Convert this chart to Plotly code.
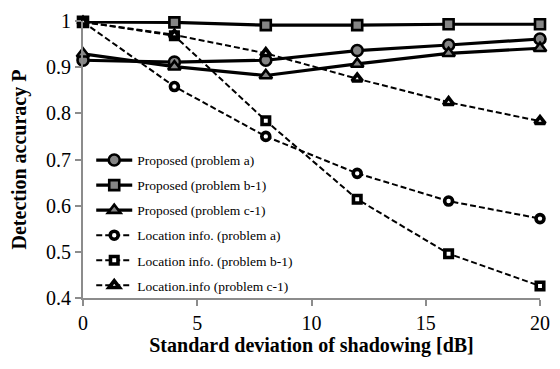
import plotly.graph_objects as go

# Shadowing standard deviation [dB]
sigma_db = [0, 4, 8, 12, 16, 20]

# Detection accuracy P for each method / problem
proposed_a = [0.915, 0.911, 0.915, 0.936, 0.948, 0.961]
proposed_b1 = [0.998, 0.997, 0.991, 0.991, 0.993, 0.993]
proposed_c1 = [0.929, 0.901, 0.882, 0.907, 0.930, 0.941]
location_a = [0.998, 0.858, 0.750, 0.670, 0.610, 0.572]
location_b1 = [0.998, 0.968, 0.784, 0.614, 0.496, 0.426]
location_c1 = [0.998, 0.970, 0.930, 0.875, 0.824, 0.783]

legend_names = [
    "Proposed (problem a)",
    "Proposed (problem b-1)",
    "Proposed (problem c-1)",
    "Location info. (problem a)",
    "Location info. (problem b-1)",
    "Location.info (problem c-1)",
]

SERIF = "Liberation Serif"
AXIS_GRAY = "#8c8c8c"

fig = go.Figure()

proposed = [(proposed_a, "circle", 11), (proposed_b1, "square", 10), (proposed_c1, "triangle-up", 11)]
location = [(location_a, "circle", 8), (location_b1, "square", 7.5), (location_c1, "triangle-up", 9)]

for i, (vals, sym, sz) in enumerate(proposed):
    fig.add_trace(go.Scatter(
        x=sigma_db, y=vals, name=legend_names[i], mode="lines+markers",
        line=dict(color="black", width=3.2),
        marker=dict(symbol=sym, size=sz, color="#858585", line=dict(color="black", width=2.6)),
        cliponaxis=False, legendgroup=f"g{i}",
    ))

for j, (vals, sym, sz) in enumerate(location):
    i = j + 3
    fig.add_trace(go.Scatter(
        x=sigma_db, y=vals, name=legend_names[i], mode="lines+markers",
        line=dict(color="black", width=2, dash="6px,3px"),
        marker=dict(symbol=sym, size=sz, color="white", line=dict(color="black", width=3.6)),
        cliponaxis=False, legendgroup=f"g{i}",
    ))

fig.update_layout(
    width=560, height=369,
    margin=dict(l=83, r=10, t=15, b=71),
    paper_bgcolor="white", plot_bgcolor="white",
    font=dict(family=SERIF, color="black"),
    showlegend=True,
    legend=dict(
        x=0.018, y=-0.01, xanchor="left", yanchor="bottom",
        bgcolor="rgba(0,0,0,0)", font=dict(family=SERIF, size=13.5, color="black"),
        traceorder="grouped", tracegroupgap=4.5, itemwidth=36,
    ),
    xaxis=dict(
        range=[0, 20], tickvals=[0, 5, 10, 15, 20],
        showline=True, linecolor=AXIS_GRAY, linewidth=2,
        ticks="outside", ticklen=6, tickcolor=AXIS_GRAY, tickwidth=1.5,
        showgrid=False, zeroline=False,
        tickfont=dict(size=20, family=SERIF, color="black"),
        title=dict(text="<b>Standard deviation of shadowing [dB]</b>",
                   font=dict(size=20, family=SERIF, color="black"), standoff=2),
    ),
    yaxis=dict(
        range=[0.4, 1.0], dtick=0.1, tick0=0.4,
        showline=True, linecolor=AXIS_GRAY, linewidth=2,
        ticks="outside", ticklen=6, tickcolor=AXIS_GRAY, tickwidth=1.5,
        showgrid=False, zeroline=False,
        tickfont=dict(size=20, family=SERIF, color="black"),
        title=dict(text="<b>Detection accuracy P</b>",
                   font=dict(size=20, family=SERIF, color="black"), standoff=14),
    ),
)

fig.write_html("out.html")
